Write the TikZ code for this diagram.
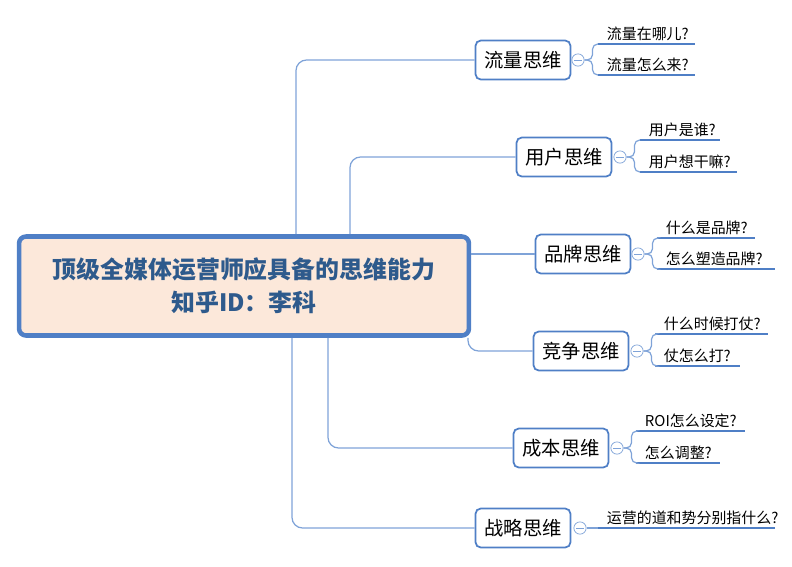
\documentclass[tikz,border=0pt]{standalone}
\usepackage{fontspec}
\setmainfont{Noto Sans CJK SC}
\usetikzlibrary{positioning}
\definecolor{edgeblue}{HTML}{7FA3D8}
\definecolor{boxblue}{HTML}{4F7FC6}
\definecolor{mainfill}{HTML}{FCE8DA}
\definecolor{titleblue}{HTML}{2E5A8C}
\newcommand{\leafitem}[5]{% name, x, y(underline), length, text
  \coordinate (#1-a) at (#2,#3);
  \coordinate (#1-b) at (#2+#4,#3);
  \node[subtext, anchor=south west] (#1) at (#2+6,#3) {#5};
  \draw[underl] (#1-a) -- (#1-b);}
\begin{document}
\begin{tikzpicture}[x=0.02cm, y=-0.02cm,
  mainbox/.style={draw=boxblue, line width=2.6pt, fill=mainfill, rounded corners=4pt,
    minimum width=9cm, minimum height=1.98cm, align=center,
    font=\bfseries\fontsize{13.6}{19}\selectfont, text=titleblue},
  branch/.style={draw=boxblue, line width=1pt, fill=white, rounded corners=3pt,
    minimum width=1.9cm, minimum height=0.78cm, font=\fontsize{11}{13}\selectfont},
  link/.style={draw=edgeblue, line width=0.7pt, rounded corners=6pt},
  fold/.style={circle, draw=edgeblue, fill=white, inner sep=0pt, minimum size=7pt,
    path picture={\draw[edgeblue, line width=0.5pt] ([xshift=-2pt]path picture bounding box.center) -- ([xshift=2pt]path picture bounding box.center);}},
  subtext/.style={font=\fontsize{8.5}{10}\selectfont, inner sep=1.5pt},
  underl/.style={draw=boxblue, line width=1.4pt}
]
\useasboundingbox (0,0) rectangle (792,566);

% central topic
\node[mainbox] (main) at (244,286) {顶级全媒体运营师应具备的思维能力\\知乎ID：李科};

% main branches
\node[branch] (liu)  at (523,60)  {流量思维};
\node[branch] (yong) at (564,157) {用户思维};
\node[branch] (pin)  at (583,254) {品牌思维};
\node[branch] (jing) at (581,351) {竞争思维};
\node[branch] (cheng) at (561,448) {成本思维};
\node[branch] (zhan) at (523,528) {战略思维};

\draw[link] (main.north -| 296,0) |- (liu.west);
\draw[link] (main.north -| 350,0) |- (yong.west);
\draw[link] (main.east |- pin.west) -- (pin.west);
\draw[link] (main.south -| 468,0) |- (jing.west);
\draw[link] (main.south -| 328,0) |- (cheng.west);
\draw[link] (main.south -| 292,0) |- (zhan.west);

% fold markers
\foreach \b/\x in {liu/578, yong/620, pin/638, jing/637, cheng/617, zhan/580}
  \node[fold] (\b-m) at (\x,0 |- \b.east) {};

% sub topics
\leafitem{liu1}{598}{44}{97}{流量在哪儿?}
\leafitem{liu2}{598}{75}{97}{流量怎么来?}
\leafitem{yong1}{640}{140}{80}{用户是谁?}
\leafitem{yong2}{640}{172}{97}{用户想干嘛?}
\leafitem{pin1}{657}{238}{98}{什么是品牌?}
\leafitem{pin2}{657}{269}{118}{怎么塑造品牌?}
\leafitem{jing1}{655}{334}{113}{什么时候打仗?}
\leafitem{jing2}{655}{366}{85}{仗怎么打?}
\leafitem{cheng1}{636}{431}{109}{ROI怎么设定?}
\leafitem{cheng2}{636}{463}{84}{怎么调整?}
\leafitem{zhan1}{598}{528}{177}{运营的道和势分别指什么?}

\draw[link, rounded corners=3pt] (liu-m.east) -- ++(8,0) |- (liu1-a);
\draw[link, rounded corners=3pt] (liu-m.east) -- ++(8,0) |- (liu2-a);
\draw[link, rounded corners=3pt] (yong-m.east) -- ++(8,0) |- (yong1-a);
\draw[link, rounded corners=3pt] (yong-m.east) -- ++(8,0) |- (yong2-a);
\draw[link, rounded corners=3pt] (pin-m.east) -- ++(8,0) |- (pin1-a);
\draw[link, rounded corners=3pt] (pin-m.east) -- ++(8,0) |- (pin2-a);
\draw[link, rounded corners=3pt] (jing-m.east) -- ++(8,0) |- (jing1-a);
\draw[link, rounded corners=3pt] (jing-m.east) -- ++(8,0) |- (jing2-a);
\draw[link, rounded corners=3pt] (cheng-m.east) -- ++(8,0) |- (cheng1-a);
\draw[link, rounded corners=3pt] (cheng-m.east) -- ++(8,0) |- (cheng2-a);
\draw[link] (zhan-m.east) -- (zhan1-a);
\end{tikzpicture}
\end{document}
